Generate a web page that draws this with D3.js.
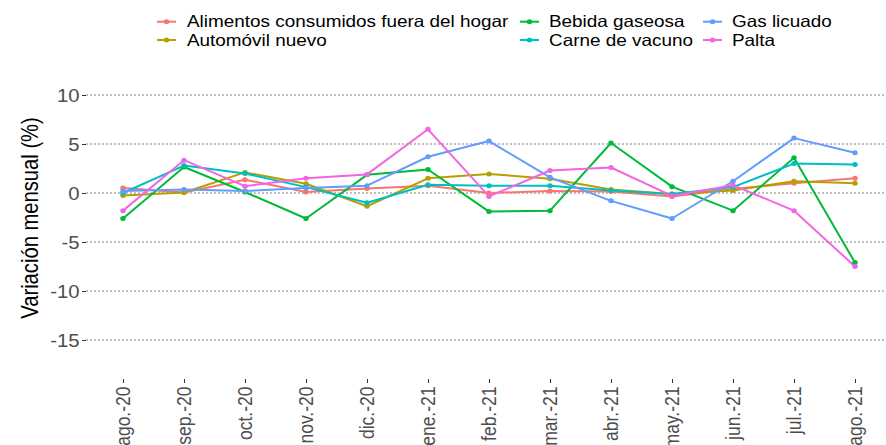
<!DOCTYPE html>
<html><head><meta charset="utf-8">
<script src="https://cdn.jsdelivr.net/npm/d3@7"></script>
<style>body{margin:0;background:#fff} svg{display:block;font-family:"Liberation Sans",Arial,sans-serif}</style>
</head><body><svg id="c" width="886" height="445"></svg>
<script>
const months = ["ago.-20","sep.-20","oct.-20","nov.-20","dic.-20","ene.-21","feb.-21","mar.-21","abr.-21","may.-21","jun.-21","jul.-21","ago.-21"];
const seriesNames = ["Alimentos consumidos fuera del hogar","Automóvil nuevo","Bebida gaseosa","Carne de vacuno","Gas licuado","Palta"];
const alimentos = [0.5, 0.05, 1.35, 0.1, 0.45, 0.75, 0.0, 0.2, 0.15, -0.35, 0.4, 1.0, 1.5];
const automovil = [-0.25, 0.05, 2.1, 0.95, -1.35, 1.5, 1.95, 1.45, 0.35, -0.1, 0.25, 1.2, 1.0];
const bebida = [-2.6, 2.65, 0.1, -2.6, 1.85, 2.4, -1.9, -1.8, 5.1, 0.65, -1.8, 3.6, -7.1];
const carne = [0.0, 2.8, 2.0, 0.6, -1.0, 0.85, 0.75, 0.75, 0.25, -0.1, 0.6, 3.0, 2.9];
const gas = [0.2, 0.35, 0.2, 0.5, 0.75, 3.7, 5.3, 1.6, -0.8, -2.6, 1.2, 5.6, 4.1];
const palta = [-1.8, 3.35, 0.7, 1.5, 1.9, 6.5, -0.35, 2.3, 2.6, -0.3, 0.8, -1.8, -7.5];
const seriesValues = [alimentos, automovil, bebida, carne, gas, palta];
const colors = ["#F8766D","#B79F00","#00BA38","#00BFC4","#619CFF","#F564E3"];
const yTicks = [-15,-10,-5,0,5,10];
const yTitle = "Variación mensual (%)";

const SX = 1.16;
const svg = d3.select("#c");
const x = d3.scalePoint().domain(months).range([123,855]);
const y = d3.scaleLinear().domain([-15,10]).range([340,95]);

// gridlines
svg.append("g").selectAll("line").data(yTicks).join("line")
  .attr("x1",86).attr("x2",886).attr("y1",d=>y(d)).attr("y2",d=>y(d))
  .attr("stroke","#808080").attr("stroke-dasharray","2,2").attr("stroke-width",1);

// y axis
const ya = svg.append("g").attr("transform","translate(86,0)")
  .call(d3.axisLeft(y).tickValues(yTicks).tickSize(4).tickFormat(d=>String(d)));
ya.attr("font-family",null).attr("font-size",null);
ya.select(".domain").remove();
ya.selectAll(".tick line").attr("stroke","#333").attr("stroke-width",1);
ya.selectAll(".tick text").attr("x",null).attr("dy",null)
  .attr("dominant-baseline","central").attr("text-anchor","end")
  .attr("transform",`translate(-6.5,0) scale(${SX},1)`)
  .attr("fill","#4d4d4d").style("font-size","17.5px");

// x axis
const xa = svg.append("g").attr("transform","translate(0,379)")
  .call(d3.axisBottom(x).tickSize(4));
xa.attr("font-family",null).attr("font-size",null);
xa.select(".domain").remove();
xa.selectAll(".tick line").attr("stroke","#333").attr("stroke-width",1);
xa.selectAll(".tick text").attr("y",null).attr("dy",null)
  .attr("dominant-baseline","central").attr("text-anchor","end")
  .attr("transform",`translate(0,7.5) scale(${SX},1) rotate(-90)`)
  .attr("fill","#4d4d4d").style("font-size","17.5px");

// y title
svg.append("text").attr("transform",`translate(30,218) scale(${SX},1) rotate(-90)`)
  .attr("text-anchor","middle").attr("dominant-baseline","central")
  .style("font-size","20.2px").attr("fill","#000").text(yTitle);

// lines
const line = d3.line().x((d,i)=>x(months[i])).y(d=>y(d));
const lg = svg.append("g");
seriesValues.forEach((vals,k)=>{
  lg.append("path").datum(vals).attr("d",line).attr("fill","none")
    .attr("stroke",colors[k]).attr("stroke-width",2).attr("stroke-linejoin","round");
});
const pg = svg.append("g");
seriesValues.forEach((vals,k)=>{
  pg.selectAll(null).data(vals).join("ellipse")
    .attr("cx",(d,i)=>x(months[i])).attr("cy",d=>y(d))
    .attr("rx",2.5*SX*0.95).attr("ry",2.5).attr("fill",colors[k]);
});

// legend
const legCols = [{kx:157,tx:187},{kx:520,tx:549},{kx:703,tx:732}];
const legRows = [21.7,40];
const leg = svg.append("g");
seriesNames.forEach((name,k)=>{
  const c = legCols[Math.floor(k/2)], ry = legRows[k%2];
  leg.append("line").attr("x1",c.kx).attr("x2",c.kx+19).attr("y1",ry).attr("y2",ry)
    .attr("stroke",colors[k]).attr("stroke-width",2);
  leg.append("ellipse").attr("cx",c.kx+9.5).attr("cy",ry).attr("rx",2.5*SX*0.95).attr("ry",2.5).attr("fill",colors[k]);
  leg.append("text").attr("transform",`translate(${c.tx},${ry}) scale(${SX},1)`)
    .attr("dominant-baseline","central").style("font-size","16.3px").attr("fill","#000").text(name);
});
</script></body></html>
